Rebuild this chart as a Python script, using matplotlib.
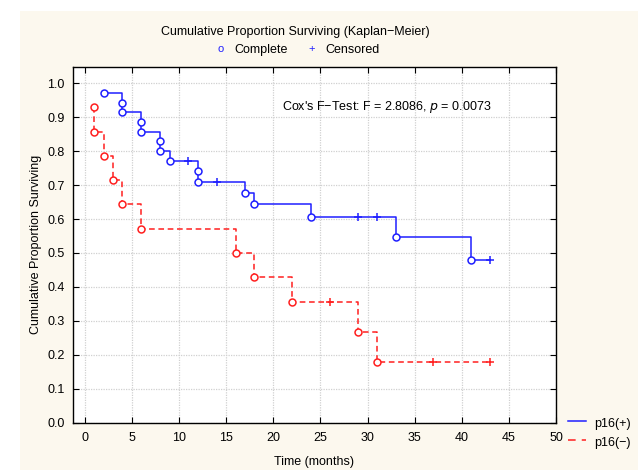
import matplotlib
matplotlib.use("Agg")
import matplotlib.pyplot as plt
from matplotlib.patches import Rectangle
from matplotlib.lines import Line2D

plt.rcParams['font.family'] = ['Liberation Sans', 'DejaVu Sans']

# p16(+) group: event (complete) times and survival after each event
pos_event_t = [2, 4, 4, 6, 6, 8, 8, 9, 12, 12, 17, 18, 24, 33, 41]
pos_event_s = [0.971, 0.943, 0.914, 0.886, 0.857, 0.829, 0.800, 0.771,
               0.741, 0.710, 0.678, 0.645, 0.607, 0.546, 0.478]
pos_cens_t = [11, 14, 29, 31, 43]
pos_cens_s = [0.771, 0.710, 0.607, 0.607, 0.478]

# p16(-) group
neg_event_t = [1, 1, 2, 3, 4, 6, 16, 18, 22, 29, 31]
neg_event_s = [0.929, 0.857, 0.786, 0.714, 0.643, 0.571,
               0.500, 0.429, 0.357, 0.268, 0.179]
neg_cens_t = [26, 37, 43]
neg_cens_s = [0.357, 0.179, 0.179]

series_labels = ['p16(+)', 'p16(\u2212)']
xticks = list(range(0, 51, 5))
yticks = [round(0.1 * i, 1) for i in range(11)]

BLUE = '#1f1fff'
RED = '#ff1f1f'
BG = '#fcf8ee'
W, H = 638, 470


def fx(px):
    return px / W


def fy(py):
    return 1 - py / H


fig = plt.figure(figsize=(6.38, 4.70), dpi=100)
fig.patch.set_facecolor('white')
fig.patches.append(Rectangle((fx(20), 0), 1 - fx(20), fy(11),
                             transform=fig.transFigure, facecolor=BG,
                             edgecolor='none', zorder=-10))

ax = fig.add_axes([fx(73), fy(422.7), (556 - 73) / W, (422.7 - 67) / H])
ax.set_facecolor('white')
ax.set_xlim(-1.25, 50)
ax.set_ylim(0, 1.048)
ax.set_xticks(xticks)
ax.set_yticks(yticks)
ax.set_xticklabels([str(t) for t in xticks])
ax.set_yticklabels([f'{v:.1f}' for v in yticks])
ax.tick_params(direction='in', length=4, width=0.8, top=True, right=True,
               labelsize=9, colors='black')
ax.tick_params(axis='x', pad=7)
ax.tick_params(axis='y', pad=6)
ax.grid(True, color='#d0d0d0', linestyle=(0, (1, 1)), linewidth=0.9)
ax.set_axisbelow(True)
for sp in ax.spines.values():
    sp.set_linewidth(1.0)
    sp.set_color('black')


def draw(ev_t, ev_s, c_t, c_s, color, ls):
    xs = list(ev_t) + [c_t[-1]] if c_t[-1] > ev_t[-1] else list(ev_t)
    ys = list(ev_s) + [c_s[-1]] if c_t[-1] > ev_t[-1] else list(ev_s)
    ax.step(xs, ys, where='post', color=color, linestyle=ls, linewidth=1.1, zorder=3)
    ax.plot(ev_t, ev_s, linestyle='none', marker='o', markersize=5,
            markerfacecolor='white', markeredgecolor=color, markeredgewidth=1.1, zorder=4)
    ax.plot(c_t, c_s, linestyle='none', marker='+', markersize=6,
            markeredgecolor=color, markeredgewidth=1.1, zorder=4)


draw(pos_event_t, pos_event_s, pos_cens_t, pos_cens_s, BLUE, '-')
draw(neg_event_t, neg_event_s, neg_cens_t, neg_cens_s, RED, (0, (3.7, 2.4)))

fig.text(fx(282), fy(110), "Cox's F\u2212Test: F = 2.8086, $\\it{p}$ = 0.0073",
         fontsize=9, ha='left', va='baseline')

ax.set_xlabel('Time (months)', fontsize=9, labelpad=8)
ax.set_ylabel('Cumulative Proportion Surviving', fontsize=9, labelpad=4)

# Title and marker key
fig.text(fx(295), fy(32), 'Cumulative Proportion Surviving (Kaplan\u2212Meier)',
         ha='center', va='center', fontsize=9)
fig.text(fx(221), fy(49), 'o', color=BLUE, ha='center', va='center', fontsize=8)
fig.text(fx(234), fy(50), 'Complete', ha='left', va='center', fontsize=9)
fig.text(fx(312), fy(49), '+', color=BLUE, ha='center', va='center', fontsize=8)
fig.text(fx(325), fy(50), 'Censored', ha='left', va='center', fontsize=9)

# Series legend at bottom right
fig.add_artist(Line2D([fx(568), fx(586)], [fy(420.7)] * 2, color=BLUE,
                      linewidth=1.1, transform=fig.transFigure))
fig.add_artist(Line2D([fx(568), fx(586)], [fy(440.3)] * 2, color=RED,
                      linewidth=1.1, linestyle=(0, (5, 4)), transform=fig.transFigure))
fig.text(fx(594), fy(424), series_labels[0], ha='left', va='center', fontsize=9)
fig.text(fx(594), fy(443), series_labels[1], ha='left', va='center', fontsize=9)

fig.savefig('out.png', dpi=100, facecolor=fig.get_facecolor())
